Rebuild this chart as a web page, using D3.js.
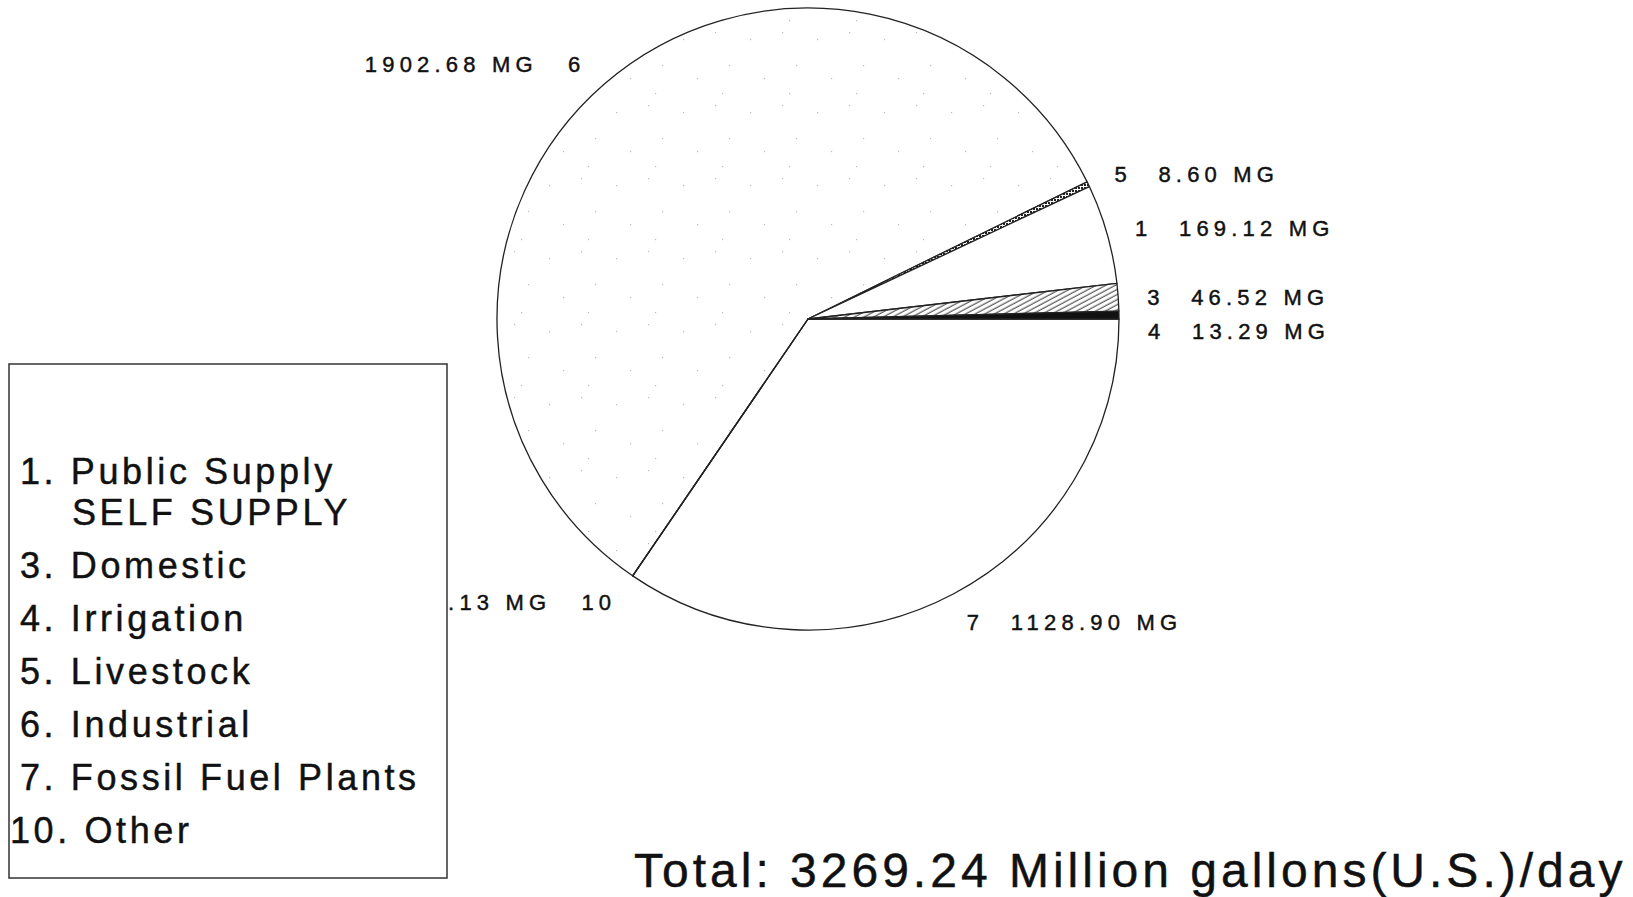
<!DOCTYPE html>
<html>
<head>
<meta charset="utf-8">
<script src="https://cdn.jsdelivr.net/npm/d3@7"></script>
<style>
  body { margin: 0; background: #fff; }
  text { font-family: "Liberation Sans", Arial, sans-serif; fill: #111; stroke: #111; stroke-width: 0.45px; }
</style>
</head>
<body>
<div id="chart"></div>
<script>
// slice order as drawn, clockwise from 3 o'clock
const sliceIds = ["7", "10", "6", "5", "1", "3", "4"];
const sliceValues = [1128.90, 0.13, 1902.68, 8.60, 169.12, 46.52, 13.29];
const sliceLabels = ["1128.90 MG", ".13 MG", "1902.68 MG", "8.60 MG", "169.12 MG", "46.52 MG", "13.29 MG"];

// each legend entry may carry a second line
const legendEntries = [["1. Public Supply", "SELF SUPPLY"], ["3. Domestic"], ["4. Irrigation"],
                       ["5. Livestock"], ["6. Industrial"], ["7. Fossil Fuel Plants"], ["10. Other"]];
const totalText = "Total: " + d3.sum(sliceValues).toFixed(2) + " Million gallons(U.S.)/day";

const svgWidth = 1633;
const svgHeight = 897;
const cx = 808, cy = 319, radius = 311;
const labelRadius = 340;

const svg = d3.select("#chart")
    .append("svg")
    .attr("width", svgWidth)
    .attr("height", svgHeight);

// fill patterns
const defs = svg.append("defs");

const stipple = defs.append("pattern")
    .attr("id", "stipple")
    .attr("patternUnits", "userSpaceOnUse")
    .attr("width", 67).attr("height", 73);
[[9, 12], [41, 5], [55, 38], [23, 51], [48, 66]].forEach(p => {
    stipple.append("rect").attr("x", p[0]).attr("y", p[1])
        .attr("width", 1.2).attr("height", 1.2).attr("fill", "#bbb");
});

const dots = defs.append("pattern")
    .attr("id", "dots")
    .attr("patternUnits", "userSpaceOnUse")
    .attr("width", 3).attr("height", 3);
dots.append("rect").attr("width", 3).attr("height", 3).attr("fill", "#fff");
dots.append("rect").attr("width", 2).attr("height", 2).attr("fill", "#222");

const hatch = defs.append("pattern")
    .attr("id", "hatch")
    .attr("patternUnits", "userSpaceOnUse")
    .attr("width", 6).attr("height", 4.5)
    .attr("patternTransform", "rotate(-28)");
hatch.append("rect").attr("width", 6).attr("height", 4.5).attr("fill", "#fff");
hatch.append("line").attr("x1", 0).attr("x2", 6).attr("y1", 2).attr("y2", 2)
    .attr("stroke", "#333").attr("stroke-width", 1);

const sliceFill = {
    "7": "#fff", "10": "#fff", "6": "url(#stipple)", "5": "url(#dots)",
    "1": "#fff", "3": "url(#hatch)", "4": "#111"
};

const slices = sliceIds.map((id, i) => ({ id, value: sliceValues[i], label: sliceLabels[i] }));

const pie = d3.pie()
    .sort(null)
    .value(d => d.value)
    .startAngle(Math.PI / 2)
    .endAngle(Math.PI / 2 + 2 * Math.PI);

const arc = d3.arc().innerRadius(0).outerRadius(radius);

const arcs = pie(slices);

const g = svg.append("g").attr("transform", `translate(${cx},${cy})`);

g.append("circle").attr("r", radius).attr("fill", "#fff");

g.selectAll(".slice")
    .data(arcs)
    .enter()
    .append("path")
    .attr("class", "slice")
    .attr("d", arc)
    .attr("fill", d => sliceFill[d.data.id])
    .attr("stroke", "#222")
    .attr("stroke-width", 1.3)
    .attr("stroke-linejoin", "round");

// labels, pushed out along each slice's middle angle
const labelPos = arcs.map(d => {
    const a = (d.startAngle + d.endAngle) / 2;
    return {
        d,
        right: Math.sin(a) >= 0,
        x: cx + labelRadius * Math.sin(a),
        y: cy - labelRadius * Math.cos(a) + 10
    };
});

// keep stacked labels on the right side apart
const rightSide = labelPos.filter(p => p.right && p.y < cy + 100).sort((a, b) => a.y - b.y);
for (let i = 1; i < rightSide.length; i++) {
    if (rightSide[i].y < rightSide[i - 1].y + 34) rightSide[i].y = rightSide[i - 1].y + 34;
}

const labelG = svg.append("g")
    .style("font-size", "22px")
    .style("letter-spacing", "5.2px");

labelPos.forEach(p => {
    const idText = labelG.append("text")
        .attr("x", p.x)
        .attr("y", p.y)
        .attr("text-anchor", p.right ? "start" : "end")
        .text(p.d.data.id);
    if (p.right) {
        labelG.append("text")
            .attr("x", p.x + 44)
            .attr("y", p.y)
            .text(p.d.data.label);
    } else {
        const w = idText.node().getComputedTextLength();
        labelG.append("text")
            .attr("x", p.x - w - 30)
            .attr("y", p.y)
            .attr("text-anchor", "end")
            .text(p.d.data.label);
    }
});

// legend box
svg.append("rect")
    .attr("x", 9).attr("y", 364)
    .attr("width", 438).attr("height", 514)
    .attr("fill", "none")
    .attr("stroke", "#333")
    .attr("stroke-width", 1.5);

let ly = 484;
const legendG = svg.append("g")
    .style("font-size", "36px")
    .style("letter-spacing", "3.6px");

legendEntries.forEach(entry => {
    const t = legendG.append("text")
        .attr("x", entry[0].startsWith("10") ? 10 : 20)
        .attr("y", ly);
    t.append("tspan").text(entry[0]);
    if (entry[1]) {
        t.append("tspan").attr("x", 72).attr("dy", 41).text(entry[1]);
        ly += 41;
    }
    ly += 53;
});

svg.append("text")
    .attr("x", 634)
    .attr("y", 887)
    .style("font-size", "48px")
    .style("letter-spacing", "4px")
    .text(totalText);
</script>
</body>
</html>
